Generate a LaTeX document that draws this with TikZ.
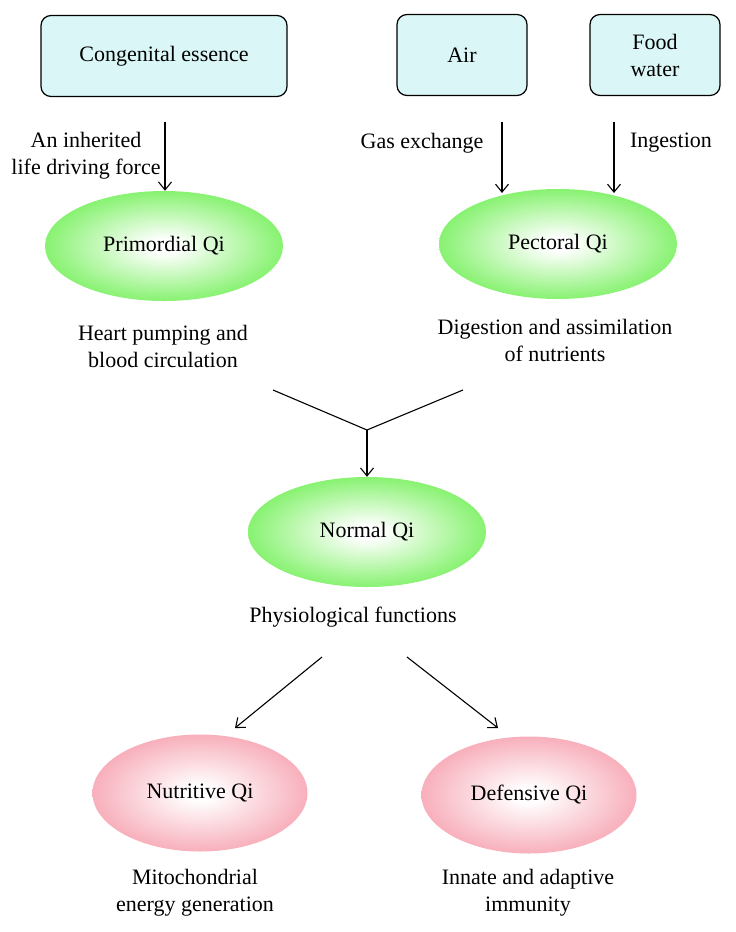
\documentclass[tikz,border=0pt]{standalone}
\usepackage{fontspec}
\setmainfont{Liberation Serif}
\usetikzlibrary{shapes.geometric}
\usetikzlibrary{arrows.meta}

\definecolor{boxfill}{RGB}{218,246,246}
\definecolor{leafgreen}{RGB}{98,238,68}
\definecolor{rosepink}{RGB}{245,150,166}
\pgfdeclareradialshading{greenglow}{\pgfpoint{0bp}{0bp}}{color(0bp)=(white); color(3bp)=(white); color(32bp)=(leafgreen); color(50bp)=(leafgreen)}
\pgfdeclareradialshading{pinkglow}{\pgfpoint{0bp}{0bp}}{color(0bp)=(white); color(3bp)=(white); color(32bp)=(rosepink); color(50bp)=(rosepink)}

\tikzset{
	srcbox/.style={draw, rounded corners=10pt, fill=boxfill, line width=1.2pt, minimum height=81pt, inner sep=0pt, align=center},
	qigreen/.style={ellipse, shading=greenglow, minimum width=238pt, minimum height=110pt, inner sep=0pt},
	qipink/.style={ellipse, shading=pinkglow, minimum width=215pt, minimum height=117pt, inner sep=0pt},
	lbl/.style={align=center, inner sep=0pt},
	flow/.style={-{Straight Barb[length=8pt,width=13pt]}, line width=1.1pt}
}

\begin{document}
\begin{tikzpicture}[x=1pt,y=-1pt,font=\fontsize{22}{27}\selectfont]
	\useasboundingbox (0,0) rectangle (736,932);

	% sources
	\node[srcbox, minimum width=246pt](cong) at (164,56) {Congenital essence};
	\node[srcbox, minimum width=130pt](air) at (462,55) {Air};
	\node[srcbox, minimum width=130pt](food) at (655,55) {Food\\water};

	% qi
	\node[qigreen](prim) at (164,246) {Primordial Qi};
	\node[qigreen](pect) at (558,244) {Pectoral Qi};
	\node[qigreen](norm) at (367,532) {Normal Qi};
	\node[qipink](nutr) at (200,793) {Nutritive Qi};
	\node[qipink](defn) at (529,795) {Defensive Qi};

	% labels
	\node[lbl](inher) at (86,156) {An inherited\\life driving force};
	\node[lbl](gas) at (422,143) {Gas exchange};
	\node[lbl](ingest) at (671,143) {Ingestion};
	\node[lbl](heart) at (163,346) {Heart pumping and\\blood circulation};
	\node[lbl](digest) at (555,340) {Digestion and assimilation\\of nutrients};
	\node[lbl](physio) at (353,617) {Physiological functions};
	\node[lbl](mito) at (195,893) {Mitochondrial\\energy generation};
	\node[lbl](immun) at (528,893) {Innate and adaptive\\immunity};

	\coordinate (congTop) at (165,122);
	\coordinate (gasTop) at (502,122);
	\coordinate (ingTop) at (614,122);
	\coordinate (joinL) at (273,390);
	\coordinate (joinM) at (367,430);
	\coordinate (joinR) at (463,390);
	\coordinate (splitL) at (322,657);
	\coordinate (splitR) at (407,657);
	\coordinate (nutrTip) at (235,728);
	\coordinate (defnTip) at (498,728);

	\draw[flow] (congTop) -- (congTop |- prim.north);
	\draw[flow] (gasTop) -- (502,193);
	\draw[flow] (ingTop) -- (614,193);
	\draw[line width=1.1pt] (joinL) -- (joinM) -- (joinR);
	\draw[flow] (joinM) -- (norm.north);
	\draw[flow] (splitL) -- (nutrTip);
	\draw[flow] (splitR) -- (defnTip);
\end{tikzpicture}
\end{document}
